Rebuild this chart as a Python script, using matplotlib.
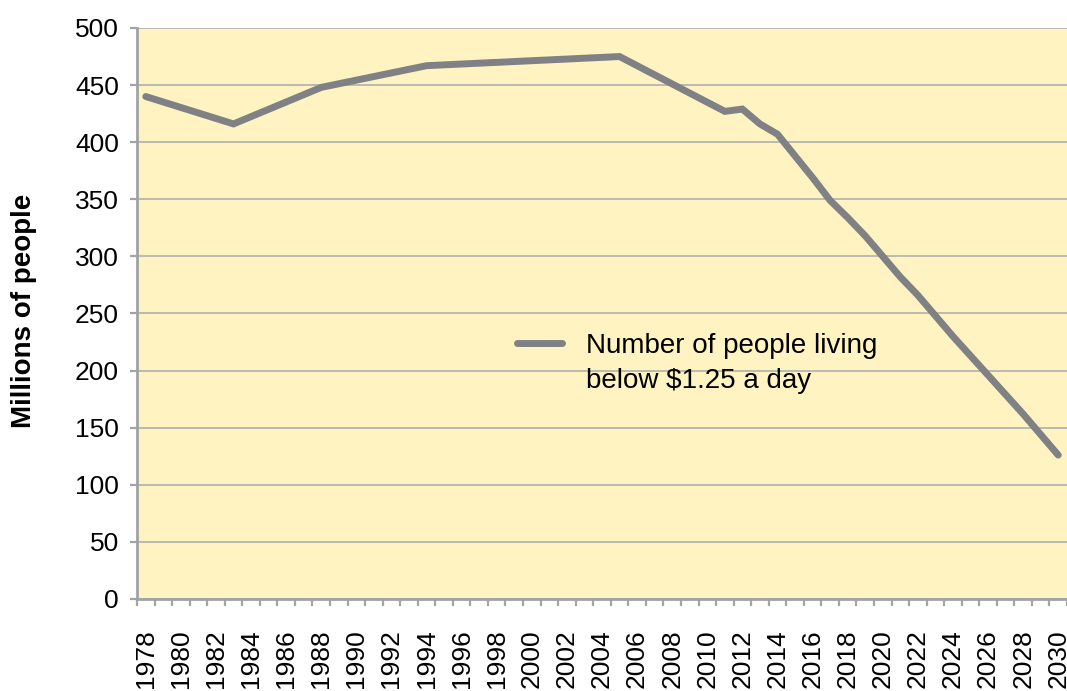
import numpy as np
import matplotlib
matplotlib.use("Agg")
import matplotlib.pyplot as plt
from matplotlib.lines import Line2D

# data (millions of people)
years = [1978, 1983, 1988, 1994, 2005, 2008, 2011, 2012, 2013, 2014,
         2015, 2016, 2017, 2018, 2019, 2020, 2021, 2022, 2023, 2024,
         2025, 2026, 2027, 2028, 2029, 2030]
people = [440, 416, 448, 467, 475, 451, 427, 429, 416, 407,
          388, 369, 349, 334, 318, 300, 282, 266, 248, 230,
          213, 196, 179, 162, 144, 126]
label_years = list(range(1978, 2031, 2))
y_ticks = list(range(0, 501, 50))
series_label = "Number of people living\nbelow $1.25 a day"

plt.rcParams['font.family'] = ['Liberation Sans', 'DejaVu Sans']

fig = plt.figure(figsize=(10.67, 6.91), dpi=100)
ax = fig.add_axes([137 / 1067, 1 - 599 / 691, 930 / 1067, 571 / 691])
ax.set_facecolor('#FFF3C1')

ax.plot(years, people, color='#808185', lw=5, solid_joinstyle='miter',
        solid_capstyle='round', zorder=3)

ax.set_xlim(1977.5, 2030.5)
ax.set_ylim(0, 500)

# gridlines
ax.set_yticks(y_ticks)
ax.grid(axis='y', color='#A8AAAD', lw=1.1, zorder=1)
ax.set_axisbelow(True)

ax.set_xticks(label_years)
ax.set_xticklabels([str(y) for y in label_years], rotation=90, fontsize=19)
ax.set_xticks(np.arange(1977.5, 2031, 1), minor=True)
ax.tick_params(axis='x', which='major', length=0, pad=22)
ax.tick_params(axis='x', which='minor', length=5, width=1.6, color='#A0A3A7')
ax.tick_params(axis='y', length=5, width=1.6, color='#A0A3A7', labelsize=19, pad=8)

for s in ['top', 'right']:
    ax.spines[s].set_visible(False)
for s in ['left', 'bottom']:
    ax.spines[s].set_color('#A0A3A7')
    ax.spines[s].set_linewidth(2)

fig.text(24 / 1067, 1 - 311 / 691, 'Millions of people', rotation=90,
         fontsize=20, fontweight='bold', ha='center', va='center')

# legend drawn by hand so the sample sits on the first line
fig.add_artist(Line2D([517 / 1067, 562 / 1067], [1 - 343 / 691, 1 - 343 / 691],
                      color='#808185', lw=5, solid_capstyle='round',
                      transform=fig.transFigure))
fig.text(586 / 1067, 1 - 333 / 691, series_label, fontsize=20,
         ha='left', va='top', linespacing=1.45)

fig.savefig('out.png', dpi=100)
